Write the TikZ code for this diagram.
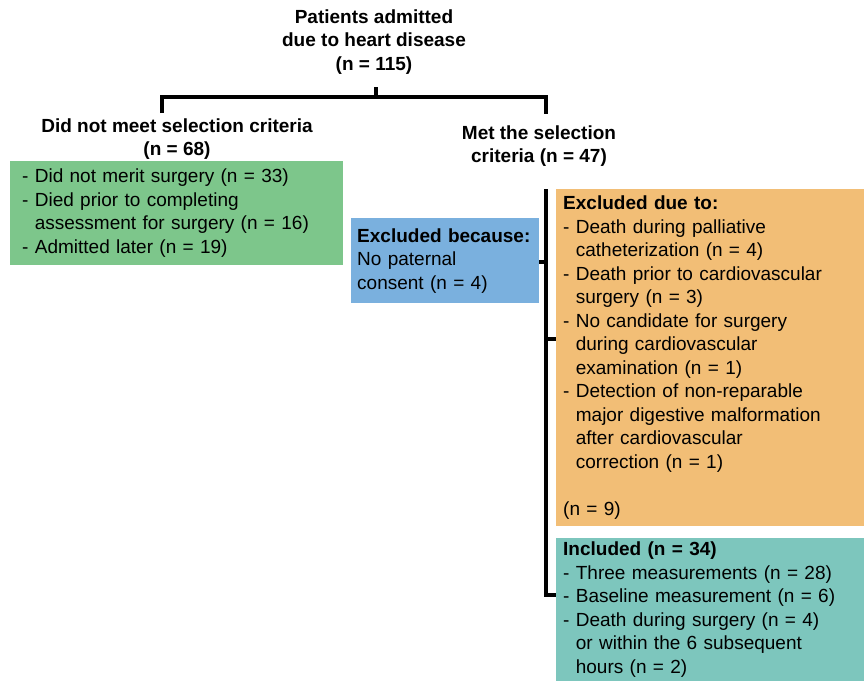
\documentclass[tikz,border=0pt]{standalone}
\usepackage{fontspec}
\setmainfont{Liberation Sans}
\usepackage{tikz}
\usetikzlibrary{positioning}

\definecolor{notmetgreen}{HTML}{7DC68B}
\definecolor{consentblue}{HTML}{7AB0DE}
\definecolor{exclorange}{HTML}{F2BE76}
\definecolor{inclteal}{HTML}{7DC6BD}

\newcommand{\ind}{\phantom{- }}

\begin{document}
\begin{tikzpicture}[x=1pt,y=-1pt,
  every node/.style={font=\fontsize{19}{23.5}\selectfont},
  head/.style={align=center,font=\fontsize{19}{23.5}\selectfont\bfseries},
  box/.style={anchor=north west,align=left,inner ysep=0pt},
  conn/.style={line width=3.2pt,line join=miter}]
  \useasboundingbox (0,0) rectangle (864,681);

  \node [head] (adm) at (374,42) {Patients admitted\\due to heart disease\\(n = 115)};
  \node [head] (notmet) at (177,139) {Did not meet selection criteria\\(n = 68)};
  \node [head] (met) at (539,146) {Met the selection\\criteria (n = 47)};

  \node [box,fill=notmetgreen,minimum width=333pt,minimum height=104pt,
         text width=309pt,inner xsep=12pt] (reasons) at (10,161)
        {- Did not merit surgery (n = 33)\\
         - Died prior to completing\\
         \ind assessment for surgery (n = 16)\\
         - Admitted later (n = 19)};

  \node [box,fill=consentblue,minimum width=188pt,minimum height=85pt,
         text width=176pt,inner xsep=6pt] (consent) at (351,218)
        {\textbf{Excluded because:}\\
         No paternal\\
         consent (n = 4)};

  \node [box,fill=exclorange,minimum width=308pt,minimum height=337pt,
         text width=294pt,inner xsep=7pt] (excl) at (556,189)
        {\textbf{Excluded due to:}\\
         - Death during palliative\\
         \ind catheterization (n = 4)\\
         - Death prior to cardiovascular\\
         \ind surgery (n = 3)\\
         - No candidate for surgery\\
         \ind during cardiovascular\\
         \ind examination (n = 1)\\
         - Detection of non-reparable\\
         \ind major digestive malformation\\
         \ind after cardiovascular\\
         \ind correction (n = 1)\\[23.5pt]
         (n = 9)};

  \node [box,fill=inclteal,minimum width=308pt,minimum height=143pt,
         text width=294pt,inner xsep=7pt] (incl) at (556,538)
        {\textbf{Included (n = 34)}\\
         - Three measurements (n = 28)\\
         - Baseline measurement (n = 6)\\
         - Death during surgery (n = 4)\\
         \ind or within the 6 subsequent\\
         \ind hours (n = 2)};

  % split under the admitted patients
  \coordinate (top) at (376,87);
  \coordinate (mid) at (376,97);
  \coordinate (lft) at (162,113);
  \coordinate (rgt) at (546,114);
  \draw [conn] (top) -- (mid);
  \draw [conn] (lft) -- (lft |- mid) -- (rgt |- mid) -- (rgt);

  % bracket for the selected patients
  \coordinate (brtop) at (546,189);
  \coordinate (brbot) at (546,595);
  \coordinate (btick) at (546,262);
  \coordinate (otick) at (546,339);
  \draw [conn] (brtop) -- (brbot) -- (brbot -| incl.west);
  \draw [conn] (btick -| consent.east) -- (btick);
  \draw [conn] (otick) -- (otick -| excl.west);
\end{tikzpicture}
\end{document}
